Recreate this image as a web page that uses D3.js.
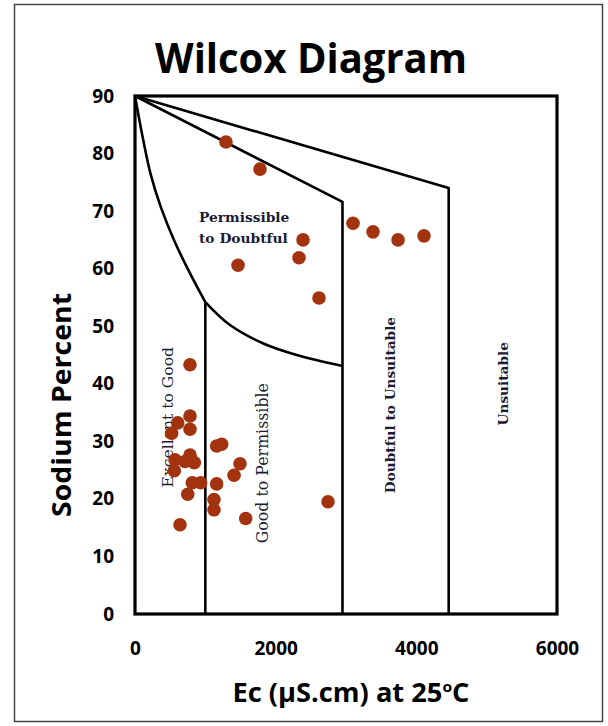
<!DOCTYPE html>
<html><head><meta charset="utf-8">
<script src="https://cdn.jsdelivr.net/npm/d3@7"></script>
<style>body{margin:0;background:#fff}</style>
</head><body>
<script>
// axis ticks
const xTicks = [0, 2000, 4000, 6000];
const yTicks = [0, 10, 20, 30, 40, 50, 60, 70, 80, 90];

// samples: EC (µS/cm) and Na %
const ecValues = [1294, 1777, 3100, 3384, 3740, 4109, 2389, 2332, 1465, 2616, 782, 2744,
  782, 607, 782, 521, 1232, 1161, 569, 782, 711, 843, 559, 1493, 1408,
  814, 933, 1161, 750, 1123, 1123, 1574, 640];
const naValues = [82.0, 77.3, 67.9, 66.4, 65.0, 65.7, 65.0, 61.9, 60.6, 54.9, 43.3, 19.5,
  34.4, 33.2, 32.1, 31.4, 29.5, 29.2, 26.8, 27.6, 26.5, 26.3, 24.9, 26.1, 24.1,
  22.8, 22.8, 22.6, 20.8, 19.9, 18.1, 16.6, 15.5];

// class boundaries [ec, na]
const outerBoundary = [[0, 90], [4460, 74], [4460, 0]];
const middleBoundary = [[0, 90], [2950, 71.6], [2950, 0]];
const upperCurve = [[0, 90], [118, 82.3], [225, 76.3], [370, 70.6], [560, 64.8], [790, 59.0], [1000, 54.2]];
const lowerCurve = [[1000, 54.2], [1351, 50.2], [1825, 47.0], [2299, 45.0], [2950, 43.1]];
const goodLine = [[1000, 54.2], [1000, 0]];

// class labels
const classNames = ["Excellent to Good", "Good to Permissible", "Doubtful to Unsuitable", "Unsuitable"];
const classEc = [469, 1806, 3626, 5232];
const classNa = [34.2, 26.2, 36.3, 40];

const W = 608, H = 726;
const x = d3.scaleLinear().domain([0, 6000]).range([135, 557]);
const y = d3.scaleLinear().domain([0, 90]).range([614, 96]);

const svg = d3.select("body").append("svg").attr("width", W).attr("height", H);

svg.append("rect").attr("x", 14.5).attr("y", 4.5).attr("width", 588).attr("height", 717)
  .attr("fill", "none").attr("stroke", "#444").attr("stroke-width", 1.5);

svg.append("text").attr("x", 311).attr("y", 73).attr("text-anchor", "middle")
  .attr("font-family", "Open Sans").attr("font-weight", 700).attr("font-size", 42)
  .attr("textLength", 312).attr("lengthAdjust", "spacingAndGlyphs")
  .text("Wilcox Diagram");

// frame
svg.append("rect").attr("x", x(0)).attr("y", y(90)).attr("width", x(6000) - x(0)).attr("height", y(0) - y(90))
  .attr("fill", "none").attr("stroke", "#000").attr("stroke-width", 3.2);

const line = d3.line().x(d => x(d[0])).y(d => y(d[1]));
const g = svg.append("g").attr("fill", "none").attr("stroke", "#000").attr("stroke-width", 2.6).attr("stroke-linejoin", "round");
g.append("path").attr("d", line(outerBoundary));
g.append("path").attr("d", line(middleBoundary));
g.append("path").attr("d", line.curve(d3.curveCatmullRom)(upperCurve));
g.append("path").attr("d", line.curve(d3.curveCatmullRom)(lowerCurve));
g.append("path").attr("d", line.curve(d3.curveLinear)(goodLine));

// axes
const tickFont = sel => sel.selectAll("text").attr("font-family", "Open Sans").attr("font-weight", 700)
  .attr("font-size", 19).attr("fill", "#000");
svg.append("g").attr("transform", `translate(${x(0)},0)`)
  .call(d3.axisLeft(y).tickValues(yTicks).tickSize(0).tickPadding(21))
  .call(a => a.select(".domain").remove()).call(tickFont);
svg.append("g").attr("transform", `translate(0,${y(0)})`)
  .call(d3.axisBottom(x).tickValues(xTicks).tickFormat(d3.format("d")).tickSize(0).tickPadding(28))
  .call(a => a.select(".domain").remove()).call(tickFont);

svg.append("text").attr("transform", "translate(71,405) rotate(-90)").attr("text-anchor", "middle")
  .attr("font-family", "Open Sans").attr("font-weight", 700).attr("font-size", 27)
  .attr("textLength", 224).attr("lengthAdjust", "spacingAndGlyphs")
  .text("Sodium Percent");

const xl = svg.append("text").attr("x", 351).attr("y", 702).attr("text-anchor", "middle")
  .attr("font-family", "Open Sans").attr("font-weight", 700).attr("font-size", 26)
  .attr("textLength", 237).attr("lengthAdjust", "spacingAndGlyphs");
xl.append("tspan").text("Ec (µS.cm) at 25");
xl.append("tspan").attr("font-size", 15).attr("dy", -10).text("o");
xl.append("tspan").attr("dy", 10).text("C");

// class labels
const serif = "DejaVu Serif";
const pd = svg.append("g").attr("font-family", serif).attr("font-weight", 700).attr("font-size", 13.8).attr("fill", "#1b1b33");
pd.append("text").attr("x", x(910)).attr("y", y(68.1)).text("Permissible");
pd.append("text").attr("x", x(910)).attr("y", y(64.4)).text("to Doubtful");

const classSize = [15.6, 15.8, 13.7, 13.7];
const classWeight = [400, 400, 700, 700];
svg.append("g").selectAll("text").data(classNames).join("text")
  .attr("transform", (d, i) => `translate(${x(classEc[i])},${y(classNa[i])}) rotate(-90)`)
  .attr("text-anchor", "middle").attr("dominant-baseline", "central")
  .attr("font-family", serif).attr("font-size", (d, i) => classSize[i]).attr("font-weight", (d, i) => classWeight[i])
  .attr("fill", "#1b1b33").text(d => d);

// samples
svg.append("g").selectAll("circle").data(ecValues).join("circle")
  .attr("cx", d => x(d)).attr("cy", (d, i) => y(naValues[i])).attr("r", 6.8)
  .attr("fill", "#a3330f");
</script>
</body></html>
